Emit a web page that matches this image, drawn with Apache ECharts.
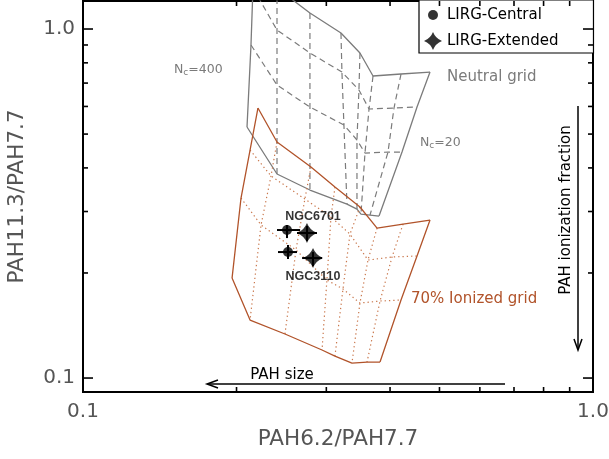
<!DOCTYPE html>
<html>
<head>
<meta charset="utf-8">
<script src="https://cdn.jsdelivr.net/npm/echarts@6/dist/echarts.min.js"></script>
<style>
  html, body { margin: 0; padding: 0; background: #fff; }
  #chart { width: 609px; height: 459px; }
</style>
</head>
<body>
<div id="chart"></div>
<script>
// ---- Axis ranges and ticks (both axes logarithmic) ----
const X_MIN = 0.1, X_MAX = 1.0;
const Y_MIN = 0.0912, Y_MAX = 1.203;
const majorTicks = [0.1, 1.0];
const majorTickLabels = ['0.1', '1.0'];
const minorTicks = [0.2, 0.3, 0.4, 0.5, 0.6, 0.7, 0.8, 0.9];

// ---- Model grids: rows (top to bottom) of nodes, one node per PAH size column (Nc = 400 ... 20) ----
const neutralGrid = [
  [[0.2164, 1.476], [0.2401, 1.311], [0.2786, 1.111], [0.3205, 0.9739], [0.3492, 0.8535], [0.3704, 0.7334], [0.4203, 0.7431], [0.4791, 0.7528]],
  [[0.2154, 1.311], [0.2401, 0.9934], [0.2786, 0.8535], [0.3219, 0.7528], [0.3476, 0.6688], [0.3638, 0.5899], [0.4072, 0.5938], [0.4518, 0.5977]],
  [[0.2135, 0.9000], [0.2401, 0.6910], [0.2786, 0.5977], [0.3248, 0.5308], [0.3445, 0.4808], [0.3572, 0.4412], [0.3963, 0.4441], [0.4222, 0.4441]],
  [[0.2097, 0.5239], [0.2401, 0.3842], [0.2786, 0.3457], [0.3293, 0.3151], [0.3445, 0.3049], [0.3508, 0.2950], [0.3654, 0.2931], [0.3806, 0.2912]]
];
const ionizedGrid = [
  [[0.2203, 0.5938], [0.2401, 0.4745], [0.2799, 0.4023], [0.3119, 0.3526], [0.3492, 0.3090], [0.3772, 0.2690], [0.4242, 0.2762], [0.4791, 0.2836]],
  [[0.2126, 0.4500], [0.2337, 0.3792], [0.2723, 0.3258], [0.3064, 0.2893], [0.3338, 0.2585], [0.3621, 0.2178], [0.4036, 0.2222], [0.4518, 0.2237]],
  [[0.2041, 0.3279], [0.2234, 0.2745], [0.2616, 0.2327], [0.3008, 0.1909], [0.3234, 0.1799], [0.3492, 0.1640], [0.3823, 0.1662], [0.4203, 0.1673]],
  [[0.1960, 0.1934], [0.2126, 0.1466], [0.2489, 0.1337], [0.2942, 0.1203], [0.3119, 0.1156], [0.3368, 0.1104], [0.3605, 0.1111], [0.3823, 0.1111]]
];

// ---- Galaxy measurements ----
const galaxyNames = ['NGC6701', 'NGC3110'];
const centralX = [0.2512, 0.2523];
const centralY = [0.2655, 0.2296];
const centralXErr = [[0.2401, 0.2665], [0.2412, 0.2628]];
const centralYErr = [[0.2518, 0.2745], [0.2193, 0.2405]];
const extendedX = [0.2749, 0.2825];
const extendedY = [0.2603, 0.2207];
const extendedXErr = [[0.2628, 0.2876], [0.2689, 0.2942]];
const extendedYErr = [[0.2469, 0.2727], [0.2094, 0.2296]];

// ---- Styling ----
const FONT = 'DejaVu Sans';
const GRAY = '#7b7b7b';
const BROWN = '#b1532a';
const BROWN_LIGHT = '#c9774c';
const STAR = 'path://M0,-10 Q2.8,-2.8 10,0 Q2.8,2.8 0,10 Q-2.8,2.8 -10,0 Q-2.8,-2.8 0,-10 Z';
const LEGEND_DOT = 'path://M0,0M18,18M4,9A5,5,0,1,1,14,9A5,5,0,1,1,4,9Z';

function polyline(points, lineStyle) {
  return {
    type: 'line', data: points, symbol: 'none', showSymbol: false,
    silent: true, animation: false, clip: true, z: 2, lineStyle: lineStyle
  };
}

// Interior rows/columns first, outline drawn on top of them
function gridSeries(nodes, outline, inner) {
  const innerList = [], outerList = [];
  const nRows = nodes.length, nCols = nodes[0].length;
  for (let r = 0; r < nRows; r++) {
    const edge = r === 0 || r === nRows - 1;
    (edge ? outerList : innerList).push(polyline(nodes[r], edge ? outline : inner));
  }
  for (let c = 0; c < nCols; c++) {
    const edge = c === 0 || c === nCols - 1;
    const col = nodes.map(row => row[c]);
    (edge ? outerList : innerList).push(polyline(col, edge ? outline : inner));
  }
  return innerList.concat(outerList);
}

function sameValue(a, b) {
  return Math.abs(Math.log10(a) - Math.log10(b)) < 1e-6;
}
function tickLabel(v) {
  for (let i = 0; i < majorTicks.length; i++) {
    if (sameValue(v, majorTicks[i])) return majorTickLabels[i];
  }
  return '';
}

const chart = echarts.init(document.getElementById('chart'), null, { renderer: 'canvas' });

const series = [];
series.push(...gridSeries(neutralGrid,
  { color: GRAY, width: 1.3, type: 'solid' },
  { color: GRAY, width: 1.2, type: [6, 4] }));
series.push(...gridSeries(ionizedGrid,
  { color: BROWN, width: 1.3, type: 'solid' },
  { color: BROWN_LIGHT, width: 1.2, type: [1.3, 3] }));

// Frame tick marks, drawn inward on all four sides
series.push({
  type: 'custom', silent: true, animation: false, clip: false, z: 6,
  data: minorTicks.map(v => [v, v, 5]).concat(majorTicks.map(v => [v, v, 10])),
  renderItem: function (params, api) {
    const cs = params.coordSys;
    const v = api.value(0);
    const len = api.value(2);
    const style = { stroke: '#000', lineWidth: 1.6 };
    const children = [];
    const y = api.coord([X_MIN, v])[1];
    children.push({ type: 'line', shape: { x1: cs.x, y1: y, x2: cs.x + len, y2: y }, style: style });
    children.push({ type: 'line', shape: { x1: cs.x + cs.width, y1: y, x2: cs.x + cs.width - len, y2: y }, style: style });
    if (len < 10) {
      const x = api.coord([v, Y_MIN])[0];
      children.push({ type: 'line', shape: { x1: x, y1: cs.y + cs.height, x2: x, y2: cs.y + cs.height - len }, style: style });
      children.push({ type: 'line', shape: { x1: x, y1: cs.y, x2: x, y2: cs.y + len }, style: style });
    }
    return { type: 'group', children: children };
  }
});

// Error bars for both apertures
const errData = centralX.map((x, i) => [x, centralY[i], centralXErr[i][0], centralXErr[i][1], centralYErr[i][0], centralYErr[i][1]])
  .concat(extendedX.map((x, i) => [x, extendedY[i], extendedXErr[i][0], extendedXErr[i][1], extendedYErr[i][0], extendedYErr[i][1]]));
series.push({
  type: 'custom', silent: true, animation: false, z: 8,
  encode: { x: 0, y: 1 },
  data: errData,
  renderItem: function (params, api) {
    const x = api.value(0), y = api.value(1);
    const l = api.coord([api.value(2), y]);
    const r = api.coord([api.value(3), y]);
    const b = api.coord([x, api.value(4)]);
    const t = api.coord([x, api.value(5)]);
    const style = { stroke: '#000', lineWidth: 2 };
    return {
      type: 'group', children: [
        { type: 'line', shape: { x1: l[0], y1: l[1], x2: r[0], y2: r[1] }, style: style },
        { type: 'line', shape: { x1: b[0], y1: b[1], x2: t[0], y2: t[1] }, style: style }
      ]
    };
  }
});

const labelOffsets = [[26, -13], [25, 24]];
series.push({
  name: 'LIRG-Central', type: 'scatter', symbol: 'circle', symbolSize: 10,
  itemStyle: { color: '#000' }, z: 10, animation: false,
  data: centralX.map((x, i) => ({
    value: [x, centralY[i]],
    label: {
      show: true, formatter: galaxyNames[i], position: 'inside', offset: labelOffsets[i],
      color: '#000', fontFamily: 'Liberation Sans', fontSize: 12.5, fontWeight: 'bold'
    }
  }))
});
series.push({
  name: 'LIRG-Extended', type: 'scatter', symbol: STAR, symbolSize: 20,
  itemStyle: { color: '#000' }, z: 10, animation: false,
  data: extendedX.map((x, i) => [x, extendedY[i]])
});

const tickFont = { color: '#555', fontFamily: FONT, fontSize: 20 };
const titleFont = { color: '#555', fontFamily: FONT, fontSize: 21.5 };

const subRich = {
  a: { fontFamily: FONT, fontSize: 12.5, fill: GRAY, lineHeight: 14, verticalAlign: 'top' },
  b: { fontFamily: FONT, fontSize: 9, fill: GRAY, lineHeight: 14, verticalAlign: 'bottom' }
};

const option = {
  animation: false,
  backgroundColor: '#fff',
  grid: {
    left: 83, right: 16, top: 1, bottom: 67,
    show: true, borderColor: '#000', borderWidth: 2, backgroundColor: 'transparent',
    outerBoundsMode: 'none'
  },
  xAxis: {
    type: 'log', logBase: 10, min: X_MIN, max: X_MAX,
    axisLine: { show: false }, axisTick: { show: false }, splitLine: { show: false },
    axisLabel: Object.assign({ formatter: tickLabel, margin: 10, showMinLabel: true, showMaxLabel: true }, tickFont),
    name: 'PAH6.2/PAH7.7', nameLocation: 'middle', nameGap: 36,
    nameTextStyle: titleFont
  },
  yAxis: {
    type: 'log', logBase: 10, min: Y_MIN, max: Y_MAX,
    axisLine: { show: false }, axisTick: { show: false }, splitLine: { show: false },
    axisLabel: Object.assign({ formatter: tickLabel, margin: 8 }, tickFont),
    name: 'PAH11.3/PAH7.7', nameLocation: 'middle', nameGap: 55, nameRotate: 90,
    nameTextStyle: titleFont
  },
  legend: {
    left: 419, top: 0, orient: 'vertical',
    padding: [6, 35, 3, 5], itemGap: 8, itemWidth: 18, itemHeight: 18,
    borderColor: '#000', borderWidth: 1.2, backgroundColor: '#fff',
    selectedMode: false,
    textStyle: { color: '#000', fontFamily: FONT, fontSize: 15 },
    data: [
      { name: 'LIRG-Central', icon: LEGEND_DOT },
      { name: 'LIRG-Extended', icon: STAR }
    ]
  },
  graphic: [
    {
      type: 'text', x: 174, y: 70, silent: true,
      style: { text: '{a|N}{b|c}{a|=400}', verticalAlign: 'middle', align: 'left', fill: GRAY, rich: subRich }
    },
    {
      type: 'text', x: 420, y: 143, silent: true,
      style: { text: '{a|N}{b|c}{a|=20}', verticalAlign: 'middle', align: 'left', fill: GRAY, rich: subRich }
    },
    {
      type: 'text', x: 447, y: 77, silent: true,
      style: { text: 'Neutral grid', font: '15px "DejaVu Sans"', fill: GRAY, align: 'left', verticalAlign: 'middle' }
    },
    {
      type: 'text', x: 411, y: 299, silent: true,
      style: { text: '70% Ionized grid', font: '15px "DejaVu Sans"', fill: BROWN, align: 'left', verticalAlign: 'middle' }
    },
    {
      type: 'text', x: 566, y: 210, rotation: Math.PI / 2, silent: true,
      style: { text: 'PAH ionization fraction', font: '15px "DejaVu Sans"', fill: '#000', align: 'center', verticalAlign: 'middle' }
    },
    {
      type: 'line', silent: true,
      shape: { x1: 578, y1: 106, x2: 578, y2: 349 }, style: { stroke: '#000', lineWidth: 1.5 }
    },
    {
      type: 'polyline', silent: true,
      shape: { points: [[574, 339], [578, 350], [582, 339]] }, style: { stroke: '#000', lineWidth: 1.5, fill: null }
    },
    {
      type: 'text', x: 282, y: 375, silent: true,
      style: { text: 'PAH size', font: '15px "DejaVu Sans"', fill: '#000', align: 'center', verticalAlign: 'middle' }
    },
    {
      type: 'line', silent: true,
      shape: { x1: 505, y1: 384, x2: 208, y2: 384 }, style: { stroke: '#000', lineWidth: 1.5 }
    },
    {
      type: 'polyline', silent: true,
      shape: { points: [[218, 380], [207, 384], [218, 388]] }, style: { stroke: '#000', lineWidth: 1.5, fill: null }
    }
  ],
  series: series
};

chart.setOption(option);
</script>
</body>
</html>
